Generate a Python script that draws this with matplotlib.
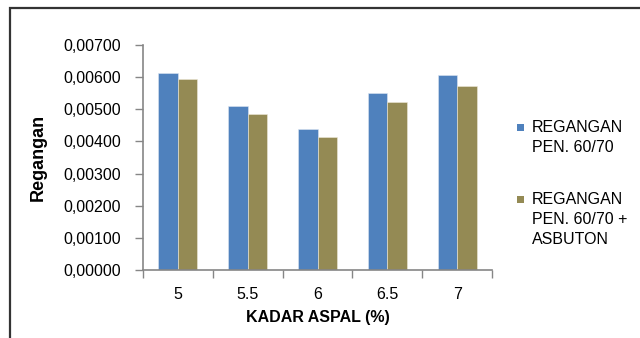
import numpy as np
import matplotlib.pyplot as plt
from matplotlib.patches import Rectangle

plt.rcParams['font.family'] = ['Liberation Sans', 'DejaVu Sans']

kadar_aspal = ['5', '5.5', '6', '6.5', '7']
regangan_pen = [0.00612, 0.00510, 0.00440, 0.00550, 0.00608]
regangan_asbuton = [0.00594, 0.00484, 0.00413, 0.00524, 0.00572]
series_labels = ['REGANGAN\nPEN. 60/70', 'REGANGAN\nPEN. 60/70 +\nASBUTON']
y_ticks = np.arange(0, 0.0071, 0.001)

blue = '#4F81BD'
olive = '#948A54'
grey = '#868686'

fig = plt.figure(figsize=(6.4, 3.38), dpi=100)
ax = fig.add_axes([143 / 640, 1 - 270 / 338, 349 / 640, 225 / 338])

x = np.arange(len(kadar_aspal))
w = 0.28
ax.bar(x - w / 2, regangan_pen, w, color=blue, edgecolor='#DCE6F2', linewidth=0.4)
ax.bar(x + w / 2, regangan_asbuton, w, color=olive, edgecolor='#EDE8D8', linewidth=0.4)

ax.set_xlim(-0.5, len(kadar_aspal) - 0.5)
ax.set_ylim(0, 0.007)
ax.set_yticks(y_ticks)
ax.set_yticklabels(['{:.5f}'.format(v).replace('.', ',') for v in y_ticks])
ax.set_xticks(x)
ax.set_xticklabels(kadar_aspal)
# category boundaries carry the tick marks
ax.set_xticks(np.arange(-0.5, len(kadar_aspal)), minor=True)
ax.tick_params(axis='x', which='major', length=0, pad=12, labelsize=11.5, labelcolor='#000000')
ax.tick_params(axis='x', which='minor', length=6, color=grey, width=1, direction='out')
ax.tick_params(axis='y', length=6, color=grey, width=1, pad=10, labelsize=11.5)

for side in ['top', 'right']:
    ax.spines[side].set_visible(False)
for side in ['left', 'bottom']:
    ax.spines[side].set_color(grey)
    ax.spines[side].set_linewidth(1.2)

ax.set_ylabel('Regangan', fontsize=13, fontweight='bold', labelpad=12)
ax.set_xlabel('KADAR ASPAL (%)', fontsize=11.5, fontweight='bold', labelpad=6)

# legend: square key beside the first line of each label
legend_rows = [(series_labels[0], blue, 124), (series_labels[1], olive, 196)]
for label, colour, top in legend_rows:
    fig.patches.append(Rectangle((517 / 640, 1 - (top + 7) / 338), 7 / 640, 7 / 338,
                                 transform=fig.transFigure, facecolor=colour, edgecolor='none'))
    fig.text(532 / 640, 1 - (top - 4) / 338, label, ha='left', va='top',
             fontsize=11.5, linespacing=1.4)

# chart frame, visible on the top and left edges
fig.patches.append(Rectangle((10 / 640, -0.1), 1.2, 1.1 - 8 / 338, transform=fig.transFigure,
                             fill=False, edgecolor='#333333', linewidth=1.6))

fig.savefig('out.png', dpi=100)
